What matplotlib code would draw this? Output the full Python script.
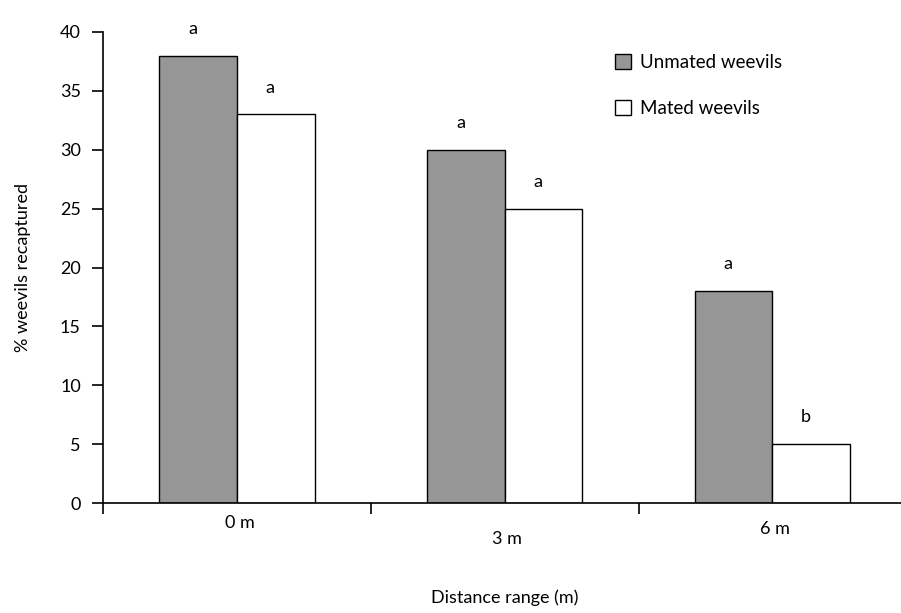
import matplotlib
matplotlib.use("Agg")
import matplotlib.pyplot as plt
import numpy as np
from matplotlib.patches import Patch

# values
categories = ["0 m", "3 m", "6 m"]
unmated = [38, 30, 18]
mated = [33, 25, 5]
unmated_letters = ["a", "a", "a"]
mated_letters = ["a", "a", "b"]
series_names = ["Unmated weevils", "Mated weevils"]

plt.rcParams["font.family"] = ["Lato", "DejaVu Sans"]

fig = plt.figure(figsize=(9.01, 6.13), dpi=100)
ax = fig.add_axes([103 / 901, 1 - 503 / 613, 1 - 103 / 901, 471 / 613])

x = np.arange(len(categories))
width = 0.29
offset = 0.145
gray = "#969696"

ax.bar(x - offset, unmated, width, color=gray, edgecolor="black", linewidth=1.0)
ax.bar(x + offset, mated, width, color="white", edgecolor="black", linewidth=1.0)

# significance letters above each bar
for i in range(len(categories)):
    ax.text(x[i] - offset - 0.02, unmated[i] + 1.6, unmated_letters[i],
            ha="center", va="bottom", fontsize=13)
    ax.text(x[i] + offset - 0.02, mated[i] + 1.6, mated_letters[i],
            ha="center", va="bottom", fontsize=13)

ax.set_ylim(0, 40)
ax.set_xlim(-0.5, 2.48)
ax.set_yticks(range(0, 41, 5))
ax.tick_params(axis="y", direction="out", length=8, width=1.2, labelsize=13, pad=8)

# ticks sit between the groups, labels drawn separately (they are staggered)
ax.set_xticks([-0.5, 0.5, 1.5])
ax.set_xticklabels([])
ax.tick_params(axis="x", direction="out", length=8, width=1.2)
label_drop = [9, 20, 13]
for i, name in enumerate(categories):
    ax.annotate(name, xy=(x[i] + 0.01, 0), xycoords=("data", "axes fraction"),
                xytext=(0, -label_drop[i]), textcoords="offset points",
                ha="center", va="top", fontsize=13)

for side in ["top", "right"]:
    ax.spines[side].set_visible(False)
ax.spines["left"].set_linewidth(1.2)
ax.spines["bottom"].set_linewidth(1.2)

ax.set_ylabel("% weevils recaptured", fontsize=13, labelpad=21)
fig.text(505 / 901, 1 - 598 / 613, "Distance range (m)", ha="center", va="center", fontsize=13)

handles = [Patch(facecolor=gray, edgecolor="black"),
           Patch(facecolor="white", edgecolor="black")]
ax.legend(handles, series_names, loc="upper left", bbox_to_anchor=(0.62, 0.99),
          frameon=False, fontsize=13.5, labelspacing=1.55, handlelength=0.85,
          handleheight=0.85, handletextpad=0.5)

fig.savefig("out.png", dpi=100)
